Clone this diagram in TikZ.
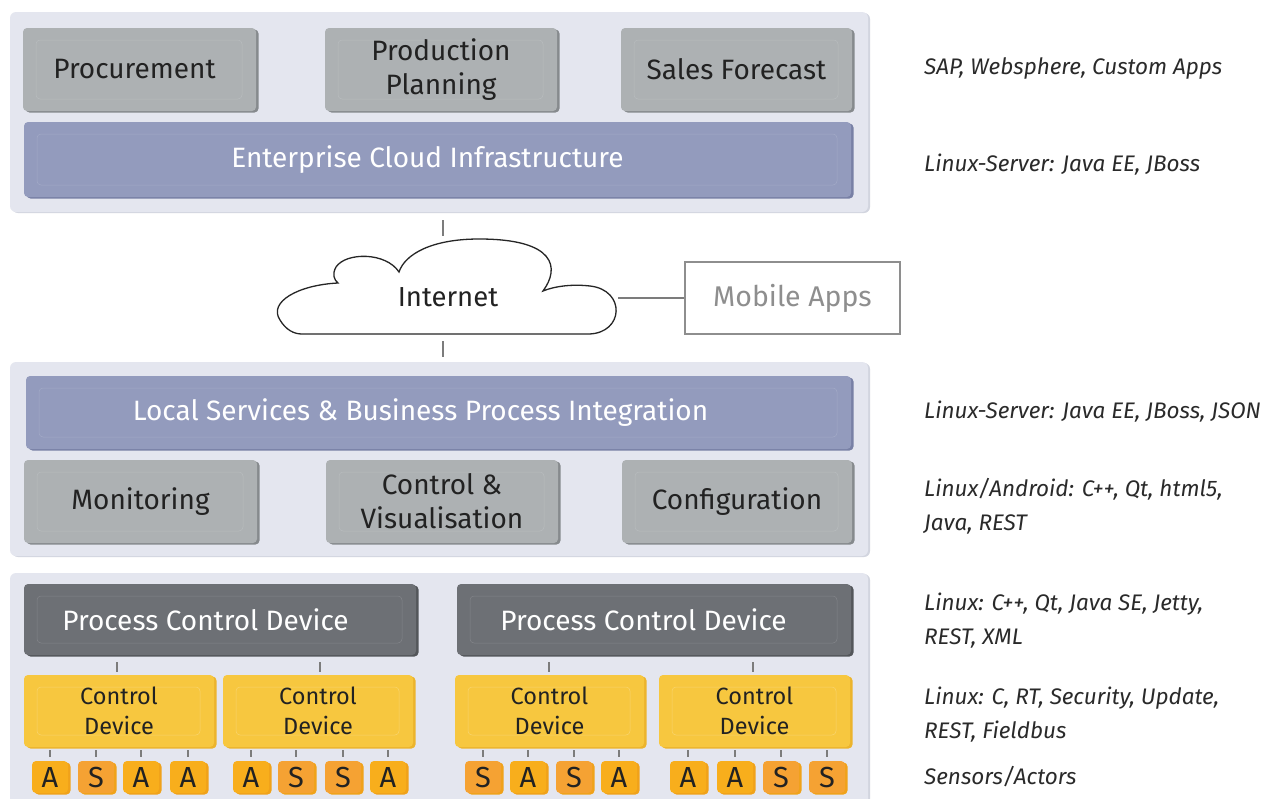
\documentclass[tikz,border=0pt]{standalone}
\usepackage{fontspec}
\setmainfont{Fira Sans}
\usetikzlibrary{shadows,calc}
\definecolor{panelbg}{HTML}{E4E6EF}
\definecolor{panelsh}{HTML}{D2D5DF}
\definecolor{bgray}{HTML}{ADB1B3}
\definecolor{bgraysh}{HTML}{868A8D}
\definecolor{bblue}{HTML}{939BBD}
\definecolor{bbluesh}{HTML}{7880A5}
\definecolor{bdark}{HTML}{6D7075}
\definecolor{bdarksh}{HTML}{53565A}
\definecolor{byel}{HTML}{F7C73F}
\definecolor{byelsh}{HTML}{ECB42C}
\definecolor{bA}{HTML}{F8AE1C}
\definecolor{bS}{HTML}{F5A233}
\definecolor{bAsh}{HTML}{F0A21A}
\definecolor{txt}{HTML}{222222}
\definecolor{sidetxt}{HTML}{2A2A2A}
\definecolor{linecol}{HTML}{7C7C7C}
\definecolor{mobcol}{HTML}{8E8E8E}
\tikzset{
  inset/.style={path picture={\draw[line width=0.5pt,#1]
     ([shift={(13pt,-12pt)}]path picture bounding box.north west) rectangle
     ([shift={(-14pt,12pt)}]path picture bounding box.south east);}},
  box/.style={rounded corners=4pt, inner sep=0pt, align=center,
     font=\fontsize{28}{36}\selectfont},
  graybox/.style={box, fill=bgray, text=txt, inset=bgray!85!white,
     drop shadow={shadow xshift=2.5pt, shadow yshift=-1.5pt, fill=bgraysh, opacity=1}},
  bluebox/.style={box, fill=bblue, text=white, inset=bblue!85!white,
     drop shadow={shadow xshift=2.5pt, shadow yshift=-1.5pt, fill=bbluesh, opacity=1}},
  darkbox/.style={box, fill=bdark, text=white, inset=bdark!85!white,
     drop shadow={shadow xshift=2.5pt, shadow yshift=-1.5pt, fill=bdarksh, opacity=1}},
  yelbox/.style={box, fill=byel, text=txt, inset=byel!75!white,
     font=\fontsize{23.5}{30}\selectfont,
     drop shadow={shadow xshift=2.5pt, shadow yshift=-1.5pt, fill=byelsh, opacity=1}},
  abox/.style={rounded corners=4pt, inner sep=0pt, minimum width=36, minimum height=32,
     fill=bA, text=txt, font=\fontsize{29}{30}\selectfont,
     drop shadow={shadow xshift=2.5pt, shadow yshift=-1.5pt, fill=bAsh, opacity=1}},
  sbox/.style={abox, fill=bS},
  panel/.style={rounded corners=6pt, fill=panelbg, inner sep=0pt,
     drop shadow={shadow xshift=2pt, shadow yshift=-1pt, fill=panelsh, opacity=1}},
  side/.style={anchor=west, align=left, text=sidetxt, inner sep=0pt,
     font=\fontsize{22.5}{34}\selectfont\itshape},
  conn/.style={draw=linecol, line width=1.3pt},
}
\begin{document}
\begin{tikzpicture}[x=1pt,y=-1pt]
\useasboundingbox (0,0) rectangle (1263,798);
\fill[white] (0,0) rectangle (1263,798);

% panels
\node[panel, minimum width=858, minimum height=200] (p1) at (439,112) {};
\node[panel, minimum width=858, minimum height=194] (p2) at (439,459) {};
\node[panel, minimum width=858, minimum height=250] (p3) at (439,698) {};

% top layer
\node[graybox, minimum width=233, minimum height=83] (proc) at (139.5,69.5) {Procurement\hspace{10pt}};
\node[graybox, minimum width=232, minimum height=83] (prod) at (441,69.5) {Production\\[-2pt]Planning};
\node[graybox, minimum width=231, minimum height=83] (sales) at (736.5,69.5) {Sales Forecast};
\node[bluebox, minimum width=827, minimum height=75] (eci) at (437.5,159.5) {Enterprise Cloud Infrastructure\hspace{20pt}};

% internet
\coordinate (c1a) at (443,220);
\coordinate (c1b) at (443,236);
\draw[conn] (c1a) -- (c1b);
\draw[line width=1.3pt, fill=white, draw=black!85]
  (302,334) -- (589,334)
  .. controls (624,333) and (626,290) .. (590,286)
  .. controls (573,284) and (555,286) .. (543,291)
  .. controls (560,268) and (556,239) .. (479,239)
  .. controls (432,239) and (405,254) .. (399,272)
  .. controls (386,252) and (346,252) .. (336,267)
  .. controls (332,274) and (334,280) .. (338,283)
  .. controls (298,285) and (268,302) .. (280,320)
  .. controls (286,330) and (294,334) .. (302,334) -- cycle;
\node[font=\fontsize{27.5}{30}\selectfont, text=txt] (inet) at (448,297) {Internet};
\node[draw=mobcol, line width=1.2pt, text=mobcol, minimum width=215, minimum height=72,
      font=\fontsize{28.5}{30}\selectfont] (mob) at (792.5,298) {Mobile Apps\hspace{6pt}};
\coordinate (cloudE) at (618,298);
\draw[conn] (cloudE) -- (mob.west);
\coordinate (c2a) at (443,341);
\coordinate (c2b) at (443,357);
\draw[conn] (c2a) -- (c2b);

% middle layer
\node[bluebox, minimum width=825, minimum height=73] (local) at (438.5,412.5)
  {Local Services \& Business Process Integration\hspace{36pt}};
\node[graybox, minimum width=233, minimum height=83] (mon) at (140.5,501.5) {Monitoring};
\node[graybox, minimum width=232, minimum height=83] (cv) at (442,501.5) {Control \&\\[-2pt]Visualisation};
\node[graybox, minimum width=230, minimum height=83] (conf) at (737,501.5) {Configuration};

% bottom layer
\node[darkbox, minimum width=392, minimum height=71] (pcd1) at (220,619.5) {Process Control Device\hspace{29pt}};
\node[darkbox, minimum width=394, minimum height=71] (pcd2) at (654,619.5) {Process Control Device\hspace{21pt}};

\node[yelbox, minimum width=190, minimum height=72] (cd1) at (119,711) {Control\\Device};
\node[yelbox, minimum width=190, minimum height=72] (cd2) at (318,711) {Control\\Device};
\node[yelbox, minimum width=189, minimum height=72] (cd3) at (549.5,711) {Control\\Device};
\node[yelbox, minimum width=191, minimum height=72] (cd4) at (754.5,711) {Control\\Device};

\foreach \x/\n in {117/a,320/b,549/c,753/d}{
  \coordinate (t\n1) at (\x,662);
  \coordinate (t\n2) at (\x,672);
  \draw[conn] (t\n1) -- (t\n2);
}

\foreach \x/\st/\t [count=\i] in {50/abox/A,96/sbox/S,141/abox/A,188/abox/A,
    251/abox/A,296/sbox/S,343/sbox/S,388/abox/A,
    483/sbox/S,528/abox/A,574/sbox/S,619/abox/A,
    688/abox/A,735/abox/A,781/sbox/S,827/sbox/S}{
  \node[\st] (as\i) at (\x,777) {\t};
  \coordinate (k\i) at (\x,750);
  \draw[conn] (k\i) -- (as\i.north|-0,757);
}

% side labels
\node[side] (s1) at (924,68) {SAP, Websphere, Custom Apps};
\node[side] (s2) at (924,165) {Linux-Server: Java EE, JBoss};
\node[side] (s3) at (924,412) {Linux-Server: Java EE, JBoss, JSON};
\node[side] (s4) at (924,506) {Linux/Android: C++, Qt, html5,\\Java, REST};
\node[side] (s5) at (924,621) {Linux: C++, Qt, Java SE, Jetty,\\REST, XML};
\node[side] (s6) at (924,714.5) {Linux: C, RT, Security, Update,\\REST, Fieldbus};
\node[side] (s7) at (924,777) {Sensors/Actors};
\end{tikzpicture}
\end{document}
